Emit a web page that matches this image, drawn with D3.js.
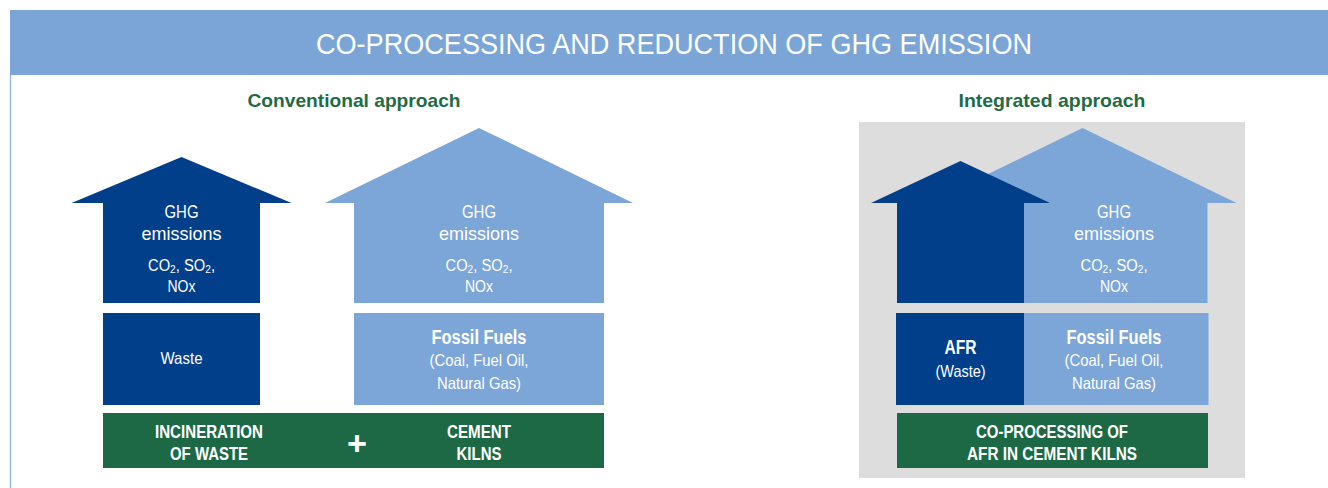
<!DOCTYPE html>
<html>
<head>
<meta charset="utf-8">
<script src="https://cdn.jsdelivr.net/npm/d3@7"></script>
<style>
  body { margin: 0; background: #fff; }
  text { font-family: "Liberation Sans", Arial, sans-serif; }
</style>
</head>
<body>
<div id="chart"></div>
<script>
// chart content
var title = "CO-PROCESSING AND REDUCTION OF GHG EMISSION"
var panelTitles = ["Conventional approach", "Integrated approach"]
var emissionLines = ["GHG", "emissions"]
var gasLines = [["CO", "2", ", SO", "2", ","], ["NOx"]]
var fuelLines = ["Fossil Fuels", "(Coal, Fuel Oil,", "Natural Gas)"]
var wasteLines = ["Waste"]
var afrLines = ["AFR", "(Waste)"]
var processLeft = ["INCINERATION", "OF WASTE"]
var processMid = ["CEMENT", "KILNS"]
var processRight = ["CO-PROCESSING OF", "AFR IN CEMENT KILNS"]

var W = 1328, H = 488
var darkBlue = "#023f8b", lightBlue = "#7ca6d8", green = "#1d6945", textGreen = "#1f6b46", grey = "#dcdddc"

// rendered widths of each line, used to squeeze the font into a condensed look
var fit = {
  "GHG": 34, "emissions": 80, "NOx": 28, "Waste": 42,
  "Fossil Fuels": 95, "(Coal, Fuel Oil,": 99, "Natural Gas)": 84,
  "INCINERATION": 108, "OF WASTE": 78, "CEMENT": 64, "KILNS": 45, "+": 20,
  "AFR": 32, "(Waste)": 50, "CO-PROCESSING OF": 152, "AFR IN CEMENT KILNS": 170
}

var svg = d3.select("#chart").append("svg")
  .attr("width", W)
  .attr("height", H)

// arrow as a polygon: tip, head wings, shaft
function arrowPath(cx, tipY, headW, headY, shaftW, bottomY) {
  var p = d3.path()
  p.moveTo(cx, tipY)
  p.lineTo(cx + headW / 2, headY)
  p.lineTo(cx + shaftW / 2, headY)
  p.lineTo(cx + shaftW / 2, bottomY)
  p.lineTo(cx - shaftW / 2, bottomY)
  p.lineTo(cx - shaftW / 2, headY)
  p.lineTo(cx - headW / 2, headY)
  p.closePath()
  return p.toString()
}

function lines(g, arr, cx, y0, step, size, weight) {
  g.append("g").selectAll("text")
    .data(arr)
    .enter()
    .append("text")
      .attr("x", cx)
      .attr("y", function(d, i) { return y0 + i * step })
      .attr("text-anchor", "middle")
      .attr("dominant-baseline", "central")
      .attr("textLength", function(d) { return fit[d] })
      .attr("lengthAdjust", "spacingAndGlyphs")
      .style("fill", "white")
      .style("font-size", size + "px")
      .style("font-weight", weight)
      .text(function(d) { return d })
}

function gasText(g, cx) {
  var t = g.append("text")
    .attr("x", cx)
    .attr("y", 265)
    .attr("text-anchor", "middle")
    .attr("dominant-baseline", "central")
    .attr("textLength", 67)
    .attr("lengthAdjust", "spacingAndGlyphs")
    .style("fill", "white")
    .style("font-size", "16px")
  gasLines[0].forEach(function(s, i) {
    var sub = i % 2 == 1
    t.append("tspan")
      .attr("dy", sub ? 4 : (i > 0 ? -4 : 0))
      .style("font-size", sub ? "11px" : "16px")
      .text(s)
  })
  lines(g, gasLines[1], cx, 286, 0, 16, "normal")
}

// header band
svg.append("rect")
  .attr("x", 10).attr("y", 10)
  .attr("width", W - 10).attr("height", 65)
  .style("fill", "#7ba5d7")
svg.append("text")
  .attr("x", 674).attr("y", 44)
  .attr("text-anchor", "middle")
  .attr("dominant-baseline", "central")
  .attr("textLength", 716)
  .attr("lengthAdjust", "spacingAndGlyphs")
  .style("fill", "white")
  .style("font-size", "29px")
  .text(title)
svg.append("line")
  .attr("x1", 10.5).attr("x2", 10.5)
  .attr("y1", 75).attr("y2", H)
  .style("stroke", "#9dbde3")
  .style("stroke-width", 1.5)

// panel titles
svg.selectAll(".ptitle")
  .data(panelTitles)
  .enter()
  .append("text")
    .attr("class", "ptitle")
    .attr("x", function(d, i) { return [354, 1052][i] })
    .attr("y", 100)
    .attr("text-anchor", "middle")
    .attr("dominant-baseline", "central")
    .attr("textLength", function(d, i) { return [213, 187][i] })
    .attr("lengthAdjust", "spacingAndGlyphs")
    .style("fill", textGreen)
    .style("font-size", "19px")
    .style("font-weight", "bold")
    .text(function(d) { return d })

// ---- conventional approach ----
var left = svg.append("g")
left.append("path").attr("d", arrowPath(181.5, 157, 220, 203, 157, 303)).style("fill", darkBlue)
left.append("path").attr("d", arrowPath(479, 128, 308, 203, 250, 303)).style("fill", lightBlue)
lines(left, emissionLines, 181.5, 211, 22.5, 19, "normal")
lines(left, emissionLines, 479, 211, 22.5, 19, "normal")
gasText(left, 181.5)
gasText(left, 479)
left.append("rect").attr("x", 103).attr("y", 313).attr("width", 157).attr("height", 92).style("fill", darkBlue)
left.append("rect").attr("x", 354).attr("y", 313).attr("width", 250).attr("height", 92).style("fill", lightBlue)
lines(left, wasteLines, 181.5, 358, 23, 16.5, "normal")
lines(left, fuelLines.slice(0, 1), 479, 337, 23, 20, "bold")
lines(left, fuelLines.slice(1), 479, 360, 23, 16.5, "normal")
left.append("rect").attr("x", 103).attr("y", 413).attr("width", 501).attr("height", 55).style("fill", green)
lines(left, processLeft, 209, 431, 22, 19, "bold")
lines(left, processMid, 479, 431, 22, 19, "bold")
lines(left, ["+"], 357, 443, 0, 34, "bold")

// ---- integrated approach ----
var right = svg.append("g")
right.append("rect").attr("x", 859).attr("y", 122).attr("width", 386).attr("height", 356).style("fill", grey)
right.append("path").attr("d", arrowPath(1082.5, 128, 308, 203, 250, 303)).style("fill", lightBlue)
right.append("path").attr("d", arrowPath(960.5, 161, 179, 203, 127, 303)).style("fill", darkBlue)
lines(right, emissionLines, 1114, 211, 22.5, 19, "normal")
gasText(right, 1114)
right.append("rect").attr("x", 896).attr("y", 313).attr("width", 128).attr("height", 92).style("fill", darkBlue)
right.append("rect").attr("x", 1024).attr("y", 313).attr("width", 184.5).attr("height", 92).style("fill", lightBlue)
lines(right, afrLines.slice(0, 1), 960.5, 347, 23, 20, "bold")
lines(right, afrLines.slice(1), 960.5, 371, 23, 16.5, "normal")
lines(right, fuelLines.slice(0, 1), 1114, 337, 23, 20, "bold")
lines(right, fuelLines.slice(1), 1114, 360, 23, 16.5, "normal")
right.append("rect").attr("x", 897).attr("y", 413).attr("width", 311).attr("height", 55).style("fill", green)
lines(right, processRight, 1052, 431, 22, 19, "bold")
</script>
</body>
</html>
